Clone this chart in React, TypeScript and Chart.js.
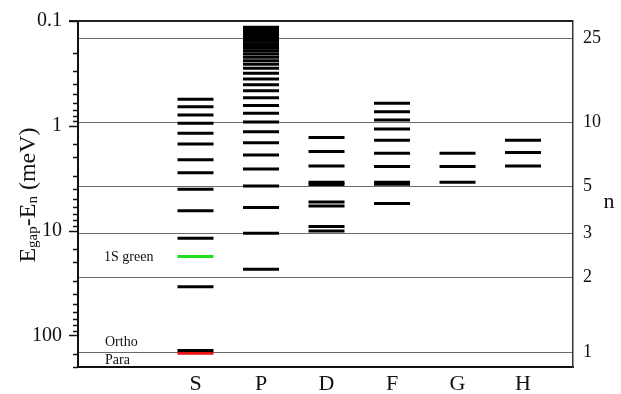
import React, { useEffect, useRef } from 'react';
import { Chart, registerables } from 'chart.js';

Chart.register(...registerables);

const SERIF = "'Liberation Serif', 'Times New Roman', serif";

// Orbital angular momentum categories (x axis)
const categories = ['S', 'P', 'D', 'F', 'G', 'H'];

// Binding energies E_gap - E_n (meV)
const sLevels = [0.558, 0.658, 0.789, 0.946, 1.18, 1.49, 2.11, 2.8, 4.04, 6.46, 11.8, 34.3, 139];
const sGreenLevels = [17.7];
const sRedLevels = [148];
const pLevels = [
  0.115, 0.12, 0.125, 0.131, 0.137, 0.144, 0.15, 0.156, 0.165, 0.173, 0.182, 0.193, 0.206,
  0.222, 0.239, 0.259, 0.282, 0.315, 0.357, 0.406, 0.462, 0.54, 0.641, 0.76, 0.92, 1.14,
  1.45, 1.9, 2.58, 3.75, 6.0, 10.6, 23.4,
];
const dLevels = [1.29, 1.76, 2.42, 3.46, 3.63, 5.33, 5.82, 9.14, 10.1];
const fLevels = [0.609, 0.733, 0.881, 1.07, 1.37, 1.83, 2.45, 3.45, 3.6, 5.51];
const gLevels = [1.83, 2.45, 3.45];
const hLevels = [1.37, 1.8, 2.42];

// Principal quantum number reference lines (right axis)
const nLabels = ['25', '10', '5', '3', '2', '1'];
const nLineEnergies = [0.146, 0.932, 3.8, 10.7, 28.0, 144];

// Left axis labelled decades
const yTickValues = [0.1, 1, 10, 100];
const yTickLabels = ['0.1', '1', '10', '100'];

// Text annotations
const greenLabel = '1S green';
const orthoLabel = 'Ortho';
const paraLabel = 'Para';

const toPoints = (col: number, arr: number[]) => arr.map((v) => ({ x: col, y: v }));

const decorPlugin = {
  id: 'decor',
  afterDraw(chart: any) {
    const ctx = chart.ctx as CanvasRenderingContext2D;
    const ys = chart.scales.y;
    const ca = chart.chartArea;
    ctx.save();
    // top frame
    ctx.strokeStyle = '#222';
    ctx.lineWidth = 2;
    ctx.beginPath();
    ctx.moveTo(ca.left - 9, ca.top);
    ctx.lineTo(ca.right, ca.top);
    ctx.stroke();
    // left ticks (major + minor), outside
    ctx.lineWidth = 1.5;
    ctx.strokeStyle = '#111';
    for (const t of ys.ticks) {
      const lg = Math.log10(t.value);
      const major = Math.abs(lg - Math.round(lg)) < 1e-6;
      const py = Math.round(ys.getPixelForValue(t.value)) + 0.5;
      ctx.beginPath();
      ctx.moveTo(ca.left - (major ? 9 : 5), py);
      ctx.lineTo(ca.left, py);
      ctx.stroke();
    }
    // annotations
    ctx.fillStyle = '#111';
    ctx.font = `14px ${SERIF}`;
    ctx.textAlign = 'left';
    ctx.textBaseline = 'middle';
    ctx.fillText(greenLabel, ca.left + 26, ys.getPixelForValue(sGreenLevels[0]) + 1);
    ctx.fillText(orthoLabel, ca.left + 27, ys.getPixelForValue(sLevels[sLevels.length - 1]) - 8);
    ctx.fillText(paraLabel, ca.left + 27, ys.getPixelForValue(sRedLevels[0]) + 7);

    // left title with subscripts
    const segs = [
      { t: 'E', sub: false },
      { t: 'gap', sub: true },
      { t: '-E', sub: false },
      { t: 'n', sub: true },
      { t: ' (meV)', sub: false },
    ];
    const big = `24px ${SERIF}`;
    const small = `15px ${SERIF}`;
    let total = 0;
    for (const s of segs) {
      ctx.font = s.sub ? small : big;
      total += ctx.measureText(s.t).width;
    }
    ctx.translate(27, 195);
    ctx.rotate(-Math.PI / 2);
    ctx.textBaseline = 'alphabetic';
    let x = -total / 2;
    for (const s of segs) {
      ctx.font = s.sub ? small : big;
      ctx.fillText(s.t, x, s.sub ? 10 : 8);
      x += ctx.measureText(s.t).width;
    }
    ctx.restore();

    // right title
    ctx.save();
    ctx.fillStyle = '#111';
    ctx.font = `22px ${SERIF}`;
    ctx.textAlign = 'center';
    ctx.textBaseline = 'middle';
    ctx.fillText('n', 609, 202);
    ctx.restore();
  },
};

const noPad = (s: any) => {
  s.paddingTop = 0;
  s.paddingBottom = 0;
};

export default function App() {
  const ref = useRef<HTMLCanvasElement | null>(null);
  useEffect(() => {
    const canvas = ref.current;
    if (!canvas) return;
    const lineDs = (label: string, col: number, arr: number[], color: string) => ({
      label,
      data: toPoints(col, arr),
      pointStyle: 'line',
      pointRadius: 18,
      pointHoverRadius: 18,
      borderColor: color,
      backgroundColor: color,
      borderWidth: 3,
      pointBorderWidth: 3,
      showLine: false,
    });
    const chart = new Chart(canvas, {
      type: 'scatter',
      data: {
        datasets: [
          lineDs('S', 1, sLevels, '#000'),
          lineDs('S green', 1, sGreenLevels, '#1ee01e'),
          lineDs('S para', 1, sRedLevels, '#e81010'),
          lineDs('P', 2, pLevels, '#000'),
          lineDs('D', 3, dLevels, '#000'),
          lineDs('F', 4, fLevels, '#000'),
          lineDs('G', 5, gLevels, '#000'),
          lineDs('H', 6, hLevels, '#000'),
        ] as any,
      },
      options: {
        animation: false,
        responsive: false,
        devicePixelRatio: 1,
        events: [],
        layout: { padding: { top: 21, left: 0, right: 0, bottom: 0 } },
        plugins: { legend: { display: false }, tooltip: { enabled: false }, title: { display: false } },
        scales: {
          x: {
            type: 'linear',
            position: 'bottom',
            min: -0.794,
            max: 6.763,
            afterFit: (s: any) => { s.height = 27; s.paddingLeft = 0; s.paddingRight = 0; },
            afterBuildTicks: (s: any) => { s.ticks = categories.map((_, i) => ({ value: i + 1 })); },
            ticks: {
              autoSkip: false,
              maxRotation: 0,
              padding: 4,
              color: '#111',
              font: { family: SERIF, size: 22 },
              callback: (_v: any, i: number) => categories[i],
            },
            grid: { display: false, drawTicks: false },
            border: { display: true, color: '#111', width: 2 },
          },
          y: {
            type: 'logarithmic',
            position: 'left',
            reverse: true,
            min: 0.1,
            max: 200,
            afterFit: (s: any) => { s.width = 78; noPad(s); },
            ticks: {
              autoSkip: false,
              padding: 16,
              color: '#111',
              font: { family: SERIF, size: 20 },
              callback: (v: any) => {
                const idx = yTickValues.findIndex((t) => Math.abs(Math.log10(t) - Math.log10(Number(v))) < 1e-6);
                return idx >= 0 ? yTickLabels[idx] : '';
              },
            },
            grid: { display: false, drawTicks: false },
            border: { display: true, color: '#111', width: 2 },
          },
          n: {
            type: 'logarithmic',
            position: 'right',
            reverse: true,
            min: 0.1,
            max: 200,
            afterFit: (s: any) => { s.width = 48; noPad(s); },
            afterBuildTicks: (s: any) => { s.ticks = nLineEnergies.map((v) => ({ value: v })); },
            ticks: {
              autoSkip: false,
              padding: 10,
              color: '#111',
              font: { family: SERIF, size: 18 },
              callback: (_v: any, i: number) => nLabels[i],
            },
            grid: { display: true, drawOnChartArea: true, drawTicks: false, color: '#6a6a6a', lineWidth: 1 },
            border: { display: true, color: '#333', width: 1.5 },
          },
        },
      } as any,
      plugins: [decorPlugin],
    });
    return () => chart.destroy();
  }, []);
  return (
    <div style={{ position: 'fixed', left: 0, top: 0, width: 621, height: 394, background: '#fff' }}>
      <canvas ref={ref} width={621} height={394} style={{ width: 621, height: 394 }} />
    </div>
  );
}
